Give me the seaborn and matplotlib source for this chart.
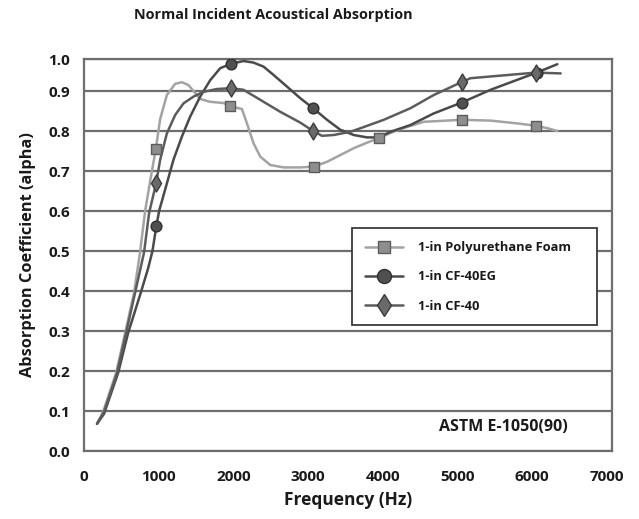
"""
Normal incident acoustical absorption of three 1-in materials (ASTM E-1050).
Curves and marker points read off the reference chart.
"""

import numpy as np
import pandas as pd
import seaborn as sns
import matplotlib.pyplot as plt
from matplotlib.lines import Line2D

# -----------------------------
# Data (frequency in Hz, absorption coefficient)
# -----------------------------
pu_freq = [174, 255, 429, 550, 670, 750, 818, 890, 961, 1019, 1109, 1220, 1310,
           1398, 1465, 1555, 1689, 1867, 1957, 2114, 2181, 2270, 2359, 2493,
           2672, 2895, 3074, 3253, 3432, 3610, 3790, 3945, 4102, 4236, 4548,
           5054, 5442, 5800, 6055, 6202, 6336]
pu_alpha = [0.068, 0.098, 0.195, 0.295, 0.396, 0.497, 0.600, 0.680, 0.755, 0.830,
            0.890, 0.918, 0.922, 0.915, 0.900, 0.880, 0.873, 0.870, 0.862, 0.855,
            0.819, 0.769, 0.736, 0.715, 0.709, 0.709, 0.711, 0.723, 0.740, 0.757,
            0.771, 0.782, 0.795, 0.805, 0.823, 0.828, 0.826, 0.819, 0.813, 0.807,
            0.800]

eg_freq = [174, 268, 456, 590, 760, 860, 916, 969, 1005, 1109, 1197, 1310, 1421,
           1555, 1689, 1823, 1966, 2135, 2269, 2403, 2538, 2717, 2895, 3066, 3253,
           3432, 3610, 3790, 3945, 4102, 4370, 4682, 5054, 5442, 5800, 6059, 6336]
eg_alpha = [0.068, 0.093, 0.195, 0.295, 0.396, 0.458, 0.500, 0.563, 0.600, 0.669,
            0.728, 0.786, 0.836, 0.886, 0.927, 0.957, 0.968, 0.975, 0.971, 0.961,
            0.940, 0.911, 0.882, 0.857, 0.828, 0.803, 0.790, 0.784, 0.784, 0.798,
            0.815, 0.844, 0.871, 0.903, 0.928, 0.946, 0.967]

cf_freq = [174, 268, 442, 563, 684, 804, 871, 965, 1019, 1109, 1220, 1331, 1465,
           1599, 1779, 1966, 2135, 2359, 2627, 2895, 3066, 3186, 3342, 3566, 3790,
           4012, 4370, 4682, 5063, 5174, 6046, 6381]
cf_alpha = [0.068, 0.098, 0.195, 0.295, 0.396, 0.497, 0.595, 0.669, 0.728, 0.794,
            0.840, 0.869, 0.886, 0.898, 0.905, 0.907, 0.903, 0.878, 0.848, 0.821,
            0.800, 0.788, 0.790, 0.798, 0.813, 0.828, 0.857, 0.890, 0.923, 0.932,
            0.946, 0.944]

# measured points shown with markers
pu_mark_freq = [961, 1957, 3074, 3945, 5054, 6055]
pu_mark_alpha = [0.755, 0.862, 0.711, 0.782, 0.828, 0.813]
eg_mark_freq = [969, 1966, 3066, 5054, 6059]
eg_mark_alpha = [0.563, 0.968, 0.857, 0.871, 0.946]
cf_mark_freq = [965, 1966, 3066, 5063, 6046]
cf_mark_alpha = [0.669, 0.907, 0.800, 0.923, 0.946]

labels = ["1-in Polyurethane Foam", "1-in CF-40EG", "1-in CF-40"]
y_tick_vals = [0.0, 0.1, 0.2, 0.3, 0.4, 0.5, 0.6, 0.7, 0.8, 0.9, 0.98]
y_tick_labels = ["0.0", "0.1", "0.2", "0.3", "0.4", "0.5", "0.6", "0.7",
                 "0.8", "0.9", "1.0"]
x_tick_vals = [0, 1000, 2000, 3000, 4000, 5000, 6000, 7000]

# -----------------------------
# Style
# -----------------------------
sns.set_theme(style="white")
plt.rcParams['font.family'] = ['Open Sans', 'DejaVu Sans']
plt.rcParams['font.weight'] = 'bold'

fig = plt.figure(figsize=(6.39, 5.19), dpi=100)
ax = fig.add_axes([0.1315, 0.131, 0.8265, 0.7553])

grid_col = '#6e6e6e'
styles = [
    # line colour, marker, marker face, marker edge, size
    ('#a3a3a3', 's', '#8e8e8e', '#5c5c5c', 45),
    ('#4a4a4a', 'o', '#505050', '#303030', 60),
    ('#5c5c5c', 'd', '#6a6a6a', '#3c3c3c', 75),
]
curves = [(pu_freq, pu_alpha), (eg_freq, eg_alpha), (cf_freq, cf_alpha)]
marks = [(pu_mark_freq, pu_mark_alpha), (eg_mark_freq, eg_mark_alpha),
         (cf_mark_freq, cf_mark_alpha)]

# -----------------------------
# Draw
# -----------------------------
for (fx, fy), (mx, my), (lc, mk, mf, me, ms) in zip(curves, marks, styles):
    sns.lineplot(x=fx, y=fy, ax=ax, color=lc, lw=1.8, estimator=None,
                 sort=False, zorder=3)
    sns.scatterplot(x=mx, y=my, ax=ax, marker=mk, s=ms, color=mf,
                    edgecolor=me, linewidth=1.0, zorder=4)

ax.set_xlim(0, 7070)
ax.set_ylim(0, 0.98)
ax.set_xticks(x_tick_vals)
ax.set_xticklabels([str(v) for v in x_tick_vals])
ax.set_yticks(y_tick_vals)
ax.set_yticklabels(y_tick_labels)
ax.tick_params(axis='both', length=0, labelsize=11, labelcolor='#1a1a1a')
ax.tick_params(axis='y', pad=10)
ax.tick_params(axis='x', pad=14)

ax.yaxis.grid(True, color=grid_col, lw=1.6)
ax.xaxis.grid(False)
ax.set_axisbelow(True)
for side in ['left', 'bottom', 'right', 'top']:
    ax.spines[side].set_visible(True)
    ax.spines[side].set_color(grid_col)
    ax.spines[side].set_linewidth(1.6)

ax.set_xlabel('Frequency (Hz)', fontsize=12.5, fontweight='bold',
              color='#1a1a1a', labelpad=5)
ax.set_ylabel('Absorption Coefficient (alpha)', fontsize=11.8,
              fontweight='bold', color='#1a1a1a', labelpad=9)
fig.text(273 / 639, 1 - 15 / 519, 'Normal Incident Acoustical Absorption',
         ha='center', va='center', fontsize=10.4, fontweight='bold',
         color='#1a1a1a')

ax.text(0.915, 0.061, 'ASTM E-1050(90)', transform=ax.transAxes,
        ha='right', va='center', fontsize=11.5, fontweight='bold',
        color='#1a1a1a')

handles = [Line2D([0], [0], color=lc, lw=1.8, marker=mk,
                  markerfacecolor=mf, markeredgecolor=me,
                  markersize=np.sqrt(ms) * 1.3)
           for (lc, mk, mf, me, ms) in styles]
leg = ax.legend(handles, labels, loc='upper left', mode='expand',
                bbox_to_anchor=(0.507, 0.319, 0.464, 0.249), borderaxespad=0,
                frameon=True, fancybox=False, framealpha=1,
                edgecolor='#3a3a3a', handlelength=3.0, labelspacing=1.25,
                borderpad=1.0, handletextpad=1.1,
                prop={'weight': 'bold', 'size': 9.3})
leg.get_frame().set_linewidth(1.3)
for t in leg.get_texts():
    t.set_color('#1a1a1a')

fig.savefig('out.png', dpi=100, facecolor='white')
